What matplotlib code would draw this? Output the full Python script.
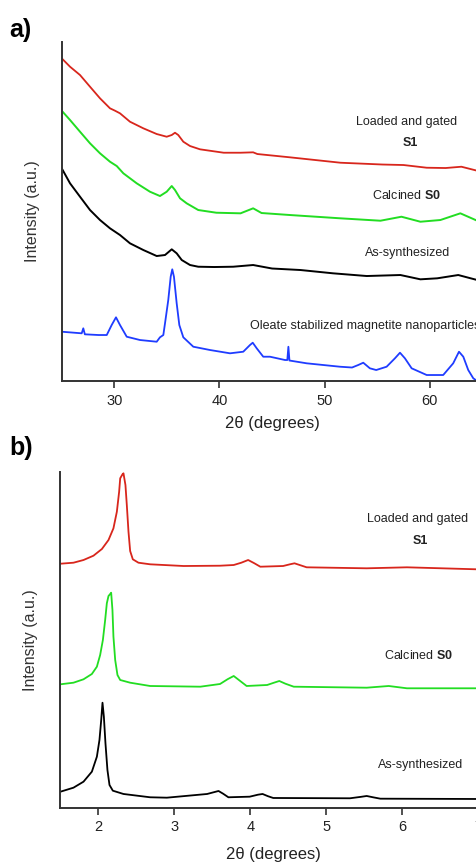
import matplotlib
matplotlib.use('Agg')
import matplotlib.pyplot as plt

plt.rcParams['font.family'] = ['Liberation Sans', 'DejaVu Sans']
plt.rcParams['mathtext.fontset'] = 'custom'
plt.rcParams['mathtext.rm'] = 'Liberation Sans'
plt.rcParams['mathtext.bf'] = 'Liberation Sans:bold'

# ---- panel a: wide angle XRD ----
a_red_x = [25.0, 25.79, 26.74, 27.69, 28.64, 29.59, 30.07, 30.54, 31.49, 32.76, 34.03, 34.98,
           35.46, 35.77, 36.08, 36.56, 37.2, 38.15, 40.4, 42.0, 43.2, 43.6, 46.7, 51.5,
           55.5, 57.5, 59.7, 61.5, 63.0, 64.5]
a_red_y = [322.7, 314.3, 306.0, 294.3, 282.7, 272.7, 270.3, 267.7, 259.3, 252.7, 247.0, 244.3,
           246.0, 248.3, 246.0, 239.3, 235.0, 231.7, 228.3, 228.3, 228.7, 227.0, 223.7, 218.3,
           216.5, 216.0, 213.3, 213.0, 214.3, 210.3]

a_green_x = [25.0, 25.79, 26.74, 27.69, 28.64, 29.59, 30.23, 30.86, 32.13, 33.39, 34.34, 34.98,
             35.46, 35.77, 36.25, 36.88, 37.98, 39.7, 42.0, 43.2, 44.0, 46.7, 51.5, 55.3,
             57.3, 59.1, 61.0, 62.9, 64.5]
a_green_y = [270.3, 261.0, 249.3, 237.7, 227.7, 219.3, 215.0, 207.7, 197.7, 189.3, 185.0, 189.3,
             195.0, 191.0, 182.7, 177.7, 171.0, 168.3, 167.7, 172.7, 168.0, 166.0, 162.7, 160.3,
             164.3, 159.3, 161.0, 167.7, 160.3]

a_black_x = [25.0, 25.79, 26.74, 27.69, 28.64, 29.59, 30.54, 31.49, 32.76, 34.03, 34.82, 35.46,
             35.93, 36.41, 37.2, 37.98, 39.5, 41.3, 43.2, 45.0, 47.7, 50.8, 54.0, 57.2,
             59.1, 60.7, 62.7, 64.5]
a_black_y = [212.7, 197.7, 184.3, 171.0, 161.0, 152.7, 146.0, 137.7, 131.0, 125.0, 126.0, 131.7,
             127.7, 121.0, 116.0, 114.3, 114.0, 114.3, 116.0, 112.5, 111.0, 107.7, 105.0, 106.0,
             101.7, 102.7, 106.0, 101.0]

a_blue_x = [25.0, 26.9, 27.05, 27.2, 28.5, 29.28, 29.75, 30.16, 30.54, 31.18, 32.44, 34.03,
            34.34, 34.66, 34.82, 35.13, 35.36, 35.51, 35.67, 35.93, 36.18, 36.56, 37.51, 39.1,
            41.0, 42.26, 42.9, 43.16, 43.54, 44.16, 44.8, 46.23, 46.45, 46.55, 46.65, 48.29,
            51.45, 52.6, 53.19, 53.67, 54.3, 54.9, 55.89, 56.68, 57.16, 57.63, 58.27, 59.7,
            61.27, 62.22, 62.77, 63.18, 63.65, 64.13, 64.5]
a_blue_y = [49.3, 47.7, 52.7, 46.7, 46.0, 46.0, 56.0, 63.7, 56.0, 44.3, 41.0, 39.3,
            43.7, 46.0, 57.7, 81.0, 104.3, 111.7, 104.3, 77.7, 56.0, 43.7, 34.3, 31.0,
            27.7, 29.3, 36.0, 38.3, 32.7, 24.3, 24.3, 21.0, 21.0, 34.3, 20.5, 17.7,
            14.3, 13.5, 16.0, 18.3, 12.7, 11.0, 14.3, 22.7, 28.3, 22.7, 12.7, 6.0,
            6.0, 17.7, 29.3, 24.3, 11.0, 2.7, 0.0]

# ---- panel b: low angle XRD ----
b_red_x = [1.5, 1.671, 1.803, 1.934, 2.045, 2.132, 2.197, 2.242, 2.272, 2.286, 2.316, 2.329,
           2.355, 2.373, 2.395, 2.417, 2.452, 2.526, 2.68, 3.12, 3.6, 3.78, 3.88, 3.97,
           4.05, 4.13, 4.43, 4.52, 4.58, 4.66, 4.74, 5.53, 6.06, 6.98]
b_red_y = [244.0, 245.0, 247.7, 252.0, 258.7, 267.7, 279.4, 296.0, 316.0, 329.4, 333.4, 334.4,
           322.7, 302.7, 276.0, 256.7, 248.4, 245.0, 243.4, 241.7, 242.0, 242.7, 245.0, 247.7,
           244.5, 241.0, 241.7, 243.4, 244.4, 242.4, 240.4, 239.4, 240.4, 238.4]

b_green_x = [1.5, 1.671, 1.803, 1.913, 1.979, 2.022, 2.058, 2.088, 2.110, 2.132, 2.154, 2.167,
             2.184, 2.197, 2.22, 2.25, 2.286, 2.417, 2.68, 3.34, 3.60, 3.70, 3.78, 3.86,
             3.95, 4.22, 4.31, 4.38, 4.46, 4.57, 5.53, 5.82, 6.06, 6.98]
b_green_y = [123.4, 125.0, 128.4, 133.7, 141.0, 152.7, 167.7, 187.7, 204.4, 211.7, 213.7, 215.0,
             197.7, 171.0, 147.7, 132.7, 127.7, 125.0, 121.7, 121.0, 123.7, 128.5, 131.7, 127.0,
             121.7, 122.7, 125.0, 126.7, 124.0, 121.0, 120.0, 121.7, 119.4, 119.4]

b_black_x = [1.5, 1.671, 1.803, 1.913, 1.979, 2.013, 2.036, 2.053, 2.071, 2.092, 2.118, 2.145,
             2.189, 2.329, 2.68, 2.90, 3.43, 3.52, 3.58, 3.64, 3.71, 3.99, 4.1, 4.16,
             4.23, 4.30, 5.31, 5.45, 5.53, 5.62, 5.71, 6.98]
b_black_y = [16.0, 20.0, 26.0, 36.0, 51.0, 67.7, 87.7, 105.0, 91.0, 64.4, 37.7, 22.7,
             17.0, 13.7, 10.4, 10.0, 13.7, 15.5, 16.7, 14.0, 10.4, 11.0, 13.0, 13.7,
             11.5, 9.7, 9.4, 10.8, 11.7, 10.3, 9.0, 8.7]

RED = '#d8261c'
GREEN = '#22dd22'
BLUE = '#1f3cff'
TXT = '#222222'


def style_axes(ax, xticks, xpad):
    for side in ['top', 'right']:
        ax.spines[side].set_visible(False)
    for side in ['left', 'bottom']:
        ax.spines[side].set_linewidth(1.4)
        ax.spines[side].set_color('#333333')
    ax.set_yticks([])
    ax.set_xticks(xticks)
    ax.tick_params(axis='x', direction='out', length=5, width=1.2, color='#333333',
                   labelsize=10.5, labelcolor=TXT, pad=4)
    ax.set_ylabel('Intensity (a.u.)', fontsize=11.5, color='#333333', labelpad=16)
    ax.set_xlabel('2\u03b8 (degrees)', fontsize=12, color=TXT, labelpad=xpad)


fig = plt.figure(figsize=(4.77, 8.63), dpi=100)

# panel a
ax1 = fig.add_axes([0.1294, 0.5585, 0.882, 0.3928])
ax1.plot(a_red_x, a_red_y, color=RED, lw=1.3)
ax1.plot(a_green_x, a_green_y, color=GREEN, lw=1.4)
ax1.plot(a_black_x, a_black_y, color='black', lw=1.4)
ax1.plot(a_blue_x, a_blue_y, color=BLUE, lw=1.3)
ax1.set_xlim(25, 65)
ax1.set_ylim(0, 339)
style_axes(ax1, [30, 40, 50, 60], 6)
fs = 9.0
ax1.text(57.8, 259.3, 'Loaded and gated', fontsize=fs, color=TXT, ha='center', va='center')
ax1.text(58.1, 238, 'S1', fontsize=fs, color=TXT, ha='center', va='center', fontweight='bold')
ax1.text(57.8, 186, 'Calcined $\\mathbf{S0}$', fontsize=fs, color=TXT, ha='center', va='center')
ax1.text(57.9, 128, 'As-synthesized', fontsize=fs, color=TXT, ha='center', va='center')
ax1.text(42.9, 55, 'Oleate stabilized magnetite nanoparticles', fontsize=fs, color=TXT,
         ha='left', va='center')

# panel b
ax2 = fig.add_axes([0.1268, 0.0641, 0.892, 0.3893])
ax2.plot(b_red_x, b_red_y, color=RED, lw=1.3)
ax2.plot(b_green_x, b_green_y, color=GREEN, lw=1.3)
ax2.plot(b_black_x, b_black_y, color='black', lw=1.3)
ax2.set_xlim(1.5, 7.1)
ax2.set_ylim(0, 336)
style_axes(ax2, [2, 3, 4, 5, 6, 7], 9)
ax2.text(6.20, 288.4, 'Loaded and gated', fontsize=fs, color=TXT, ha='center', va='center')
ax2.text(6.23, 267, 'S1', fontsize=fs, color=TXT, ha='center', va='center', fontweight='bold')
ax2.text(6.21, 151.7, 'Calcined $\\mathbf{S0}$', fontsize=fs, color=TXT, ha='center', va='center')
ax2.text(6.24, 42.7, 'As-synthesized', fontsize=fs, color=TXT, ha='center', va='center')

fig.text(0.02, 0.965, 'a)', fontsize=18, fontweight='bold', va='center', ha='left')
fig.text(0.02, 0.481, 'b)', fontsize=18, fontweight='bold', va='center', ha='left')

fig.savefig('out.png', dpi=100)
